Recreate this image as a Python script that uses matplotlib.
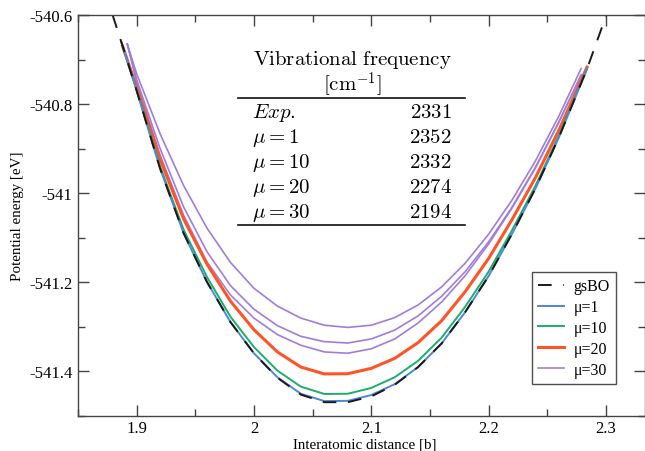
import matplotlib.pyplot as plt
from matplotlib.lines import Line2D
from matplotlib.ticker import MultipleLocator, FuncFormatter

plt.rcParams['font.family'] = ['Liberation Serif', 'DejaVu Serif']
plt.rcParams['mathtext.fontset'] = 'cm'

# curves (interatomic distance [b], energy [eV])
grid = [1.90, 1.92, 1.94, 1.96, 1.98, 2.00, 2.02, 2.04, 2.06, 2.08,
        2.10, 2.12, 2.14, 2.16, 2.18, 2.20, 2.22, 2.24, 2.26]

x_bo = [1.8795, 1.887] + grid + [2.284, 2.3005]
e_bo = [-540.600, -540.661, -540.770, -540.945, -541.090, -541.200, -541.290,
        -541.360, -541.415, -541.453, -541.470, -541.470, -541.457, -541.431,
        -541.391, -541.338, -541.268, -541.187, -541.092, -540.990, -540.875,
        -540.721, -540.600]

x_mu1 = [1.887] + grid + [2.284]
e_mu1 = [-540.661, -540.770, -540.945, -541.090, -541.200, -541.290, -541.360,
         -541.414, -541.451, -541.4675, -541.467, -541.454, -541.4295, -541.391,
         -541.338, -541.268, -541.187, -541.092, -540.990, -540.875, -540.721]

x_mu10 = [1.887] + grid + [2.284]
e_mu10 = [-540.661, -540.768, -540.940, -541.082, -541.189, -541.278, -541.346,
          -541.399, -541.435, -541.4515, -541.451, -541.438, -541.414, -541.377,
          -541.325, -541.256, -541.177, -541.084, -540.984, -540.871, -540.720]

x_mu20 = [1.888] + grid + [2.284]
e_mu20 = [-540.670, -540.762, -540.924, -541.058, -541.160, -541.243, -541.307,
          -541.357, -541.391, -541.4065, -541.406, -541.394, -541.3715, -541.336,
          -541.287, -541.222, -541.1475, -541.060, -540.9655, -540.859, -540.717]

x_mu30 = [1.892] + grid + [2.279]
e_mu30_a = [-540.665, -540.732, -540.867, -540.983, -541.079, -541.156, -541.214,
            -541.254, -541.281, -541.297, -541.302, -541.297, -541.280, -541.2515,
            -541.211, -541.158, -541.093, -541.016, -540.928, -540.827, -540.720]
e_mu30_b = [-540.665, -540.745, -540.900, -541.031, -541.132, -541.208, -541.261,
            -541.298, -541.322, -541.334, -541.337, -541.328, -541.308, -541.276,
            -541.232, -541.177, -541.110, -541.032, -540.942, -540.841, -540.734]
e_mu30_c = [-540.665, -540.750, -540.915, -541.050, -541.155, -541.229, -541.281,
            -541.318, -541.342, -541.357, -541.360, -541.350, -541.328, -541.292,
            -541.245, -541.186, -541.115, -541.034, -540.944, -540.840, -540.736]

labels = ['gsBO', 'μ=1', 'μ=10', 'μ=20', 'μ=30']

table_rows = [r'$\mathit{Exp.}$', r'$\mu = 1$', r'$\mu = 10$', r'$\mu = 20$', r'$\mu = 30$']
table_vals = ['2331', '2352', '2332', '2274', '2194']

W, H = 645, 452
fig = plt.figure(figsize=(W / 100, H / 100), dpi=100)
ax = fig.add_axes([78 / W, 1 - 417 / H, (644.5 - 78) / W, (417 - 16) / H])

c_blue = '#4f86d9'
c_green = '#1bae6c'
c_orange = '#ff5526'
c_purple = '#a07ddc'

ax.plot(x_mu30, e_mu30_a, color=c_purple, lw=1.2)
ax.plot(x_mu30, e_mu30_b, color=c_purple, lw=1.2)
l30, = ax.plot(x_mu30, e_mu30_c, color=c_purple, lw=1.2)
l20, = ax.plot(x_mu20, e_mu20, color=c_orange, lw=2.2)
l10, = ax.plot(x_mu10, e_mu10, color=c_green, lw=1.4)
l1, = ax.plot(x_mu1, e_mu1, color=c_blue, lw=1.4)
lbo, = ax.plot(x_bo, e_bo, color='#1a1a1a', lw=1.4, dashes=(7, 6))

ax.set_xlim(1.85, 2.333)
ax.set_ylim(-541.501, -540.6)
ax.xaxis.set_major_locator(MultipleLocator(0.1))
ax.xaxis.set_minor_locator(MultipleLocator(0.05))
ax.yaxis.set_major_locator(MultipleLocator(0.2))
ax.yaxis.set_minor_locator(MultipleLocator(0.1))
fmt = FuncFormatter(lambda v, p: '%g' % round(v, 3))
ax.xaxis.set_major_formatter(fmt)
ax.yaxis.set_major_formatter(fmt)
ax.tick_params(which='both', direction='in', top=True, right=True,
               color='#444444', width=1)
ax.tick_params(which='major', length=8, labelsize=12, pad=4)
ax.tick_params(axis='x', which='major', pad=3)
ax.tick_params(which='minor', length=5)
for s in ax.spines.values():
    s.set_color('#444444')
    s.set_linewidth(1)

ax.set_xlabel('Interatomic distance [b]', fontsize=10.8)
ax.set_ylabel('Potential energy [eV]', fontsize=10.8)
ax.xaxis.set_label_coords((365 - 78) / 566.5, -(438.5 - 417) / 401)
ax.yaxis.set_label_coords((24 - 78) / 566.5, 0.5)

leg = ax.legend([lbo, l1, l10, l20, l30], labels, loc='upper left',
                bbox_to_anchor=(532 / W, 1 - 273 / H), bbox_transform=fig.transFigure,
                fontsize=11.5, frameon=True, fancybox=False, handlelength=1.6,
                handletextpad=0.6, labelspacing=0.3, borderpad=0.4, borderaxespad=0)
leg.get_frame().set_edgecolor('#222222')
leg.get_frame().set_linewidth(1)

# table of vibrational frequencies
fs = 15
fig.text(352 / W, 1 - 65 / H, r'$\mathrm{Vibrational\ frequency}$', ha='center',
         va='baseline', fontsize=fs)
fig.text(352 / W, 1 - 91 / H, r'$[\mathrm{cm}^{-1}]$', ha='center', va='baseline', fontsize=fs)
for i in range(len(table_rows)):
    yb = 1 - (118.3 + 25 * i) / H
    fig.text(252 / W, yb, table_rows[i], ha='left', va='baseline', fontsize=fs)
    fig.text(452 / W, yb, '$' + table_vals[i] + '$', ha='right', va='baseline', fontsize=fs)
for yy in [99, 225.7]:
    fig.add_artist(Line2D([238 / W, 465 / W], [1 - yy / H, 1 - yy / H],
                          transform=fig.transFigure, color='#111111', lw=1.2))

plt.savefig('out.png', dpi=100)
